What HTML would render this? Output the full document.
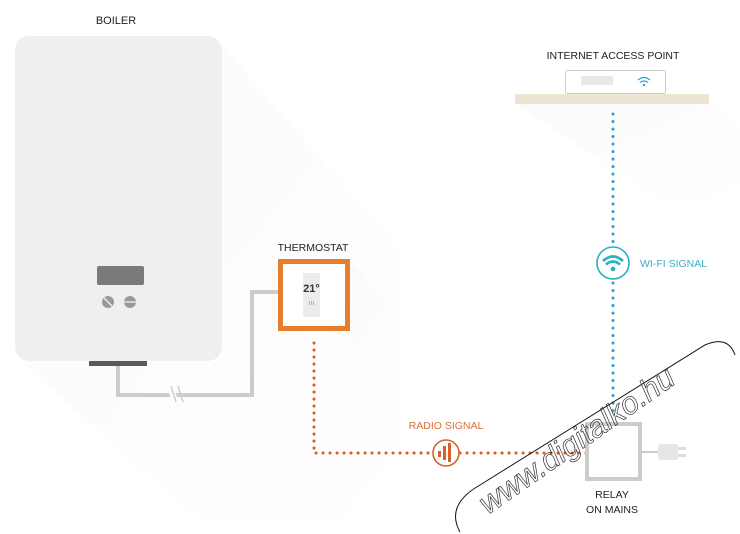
<!DOCTYPE html>
<html><head><meta charset="utf-8"><style>
html,body{margin:0;padding:0;background:#fff;}
svg{display:block;font-family:"Liberation Sans",sans-serif;}
</style></head><body>
<svg width="740" height="534" viewBox="0 0 740 534" xmlns="http://www.w3.org/2000/svg">
<defs>
<linearGradient id="sh" x1="0" y1="0" x2="1" y2="1">
<stop offset="0" stop-color="#f4f4f4"/><stop offset="1" stop-color="#ffffff"/>
</linearGradient>
</defs>
<rect width="740" height="534" fill="#fff"/>
<!-- shadows -->
<polygon points="222,45 400,250 400,520 200,520 20,361 222,361" fill="url(#sh)" opacity="0.45"/>
<polygon points="709,100 740,130 740,200 660,200 515,104" fill="url(#sh)" opacity="0.4"/>
<polygon points="350,262 400,310 400,370 330,331" fill="url(#sh)" opacity="0.4"/>
<!-- boiler -->
<text x="116" y="24" font-size="11" text-anchor="middle" fill="#222">BOILER</text>
<rect x="15" y="36" width="207" height="325" rx="14" fill="#efefef"/>
<rect x="97" y="266" width="47" height="19" rx="2" fill="#7a7a7a"/>
<circle cx="108" cy="302" r="6" fill="#999"/>
<line x1="104" y1="298" x2="112" y2="306" stroke="#eee" stroke-width="1.3"/>
<circle cx="130" cy="302" r="6" fill="#999"/>
<line x1="124" y1="302" x2="136" y2="302" stroke="#eee" stroke-width="1.3"/>
<rect x="89" y="361" width="58" height="5" fill="#5a5a5a"/>
<!-- pipe -->
<polyline points="118,366 118,395 252,395 252,292 280,292" fill="none" stroke="#cccccc" stroke-width="4"/>
<line x1="170" y1="388" x2="176" y2="402" stroke="#fff" stroke-width="6"/>
<line x1="171" y1="386" x2="176" y2="402" stroke="#ccc" stroke-width="1.5"/>
<line x1="178" y1="386" x2="183" y2="402" stroke="#ccc" stroke-width="1.5"/>
<!-- thermostat -->
<text x="313" y="251" font-size="10.5" text-anchor="middle" fill="#222">THERMOSTAT</text>
<rect x="280.5" y="261.5" width="67" height="67" fill="#fff" stroke="#e67e2e" stroke-width="5"/>
<rect x="303" y="273" width="17" height="44" fill="#ececec"/>
<text x="311.5" y="292" font-size="11" font-weight="bold" text-anchor="middle" fill="#333">21°</text>
<text x="311.5" y="305" font-size="7" text-anchor="middle" fill="#999">ııı</text>
<!-- radio dotted -->
<polyline points="314,343 314,453 432,453" fill="none" stroke="#dd5a22" stroke-width="3" stroke-linecap="round" stroke-dasharray="0.1 6.9"/>
<line x1="460" y1="453" x2="590" y2="453" stroke="#dd5a22" stroke-width="3" stroke-linecap="round" stroke-dasharray="0.1 6.9"/>
<circle cx="446" cy="453" r="13" fill="#fff" stroke="#d9602a" stroke-width="1.6"/>
<rect x="438" y="451" width="3" height="6" fill="#d9602a"/>
<rect x="443" y="446" width="3" height="14" fill="#d9602a"/>
<rect x="448" y="443" width="3" height="19" fill="#d9602a"/>
<text x="446" y="429" font-size="10.5" text-anchor="middle" fill="#d9703a">RADIO SIGNAL</text>
<!-- access point -->
<text x="613" y="59" font-size="10.5" text-anchor="middle" fill="#222">INTERNET ACCESS POINT</text>
<rect x="565.5" y="70.5" width="100" height="23" rx="2" fill="#fff" stroke="#ccc"/>
<rect x="581" y="76" width="32" height="9" fill="#e8e8e8"/>
<path d="M638,80 q6,-5 12,0 M640,82.5 q4,-3 8,0" fill="none" stroke="#2aa7cf" stroke-width="1.3"/>
<circle cx="644" cy="85" r="1.2" fill="#2aa7cf"/>
<rect x="515" y="94" width="194" height="10" fill="#ede3d3"/>
<!-- wifi dotted -->
<line x1="613" y1="114" x2="613" y2="244" stroke="#2aa3cf" stroke-width="3" stroke-linecap="round" stroke-dasharray="0.1 7.4"/>
<line x1="613" y1="283" x2="613" y2="412" stroke="#2aa3cf" stroke-width="3" stroke-linecap="round" stroke-dasharray="0.1 7.4"/>
<circle cx="613" cy="263" r="16" fill="#fff" stroke="#2ab0c0" stroke-width="1.6"/>
<path d="M603,261 q10,-9 20,0 M606,264.5 q7,-6 14,0" fill="none" stroke="#2ab0c0" stroke-width="2.6"/>
<circle cx="613" cy="269" r="2.3" fill="#2ab0c0"/>
<text x="640" y="267" font-size="10.5" fill="#3ab0c6">WI-FI SIGNAL</text>
<!-- relay -->
<rect x="587" y="424" width="53" height="55" fill="#fff" stroke="#cccccc" stroke-width="4"/>
<line x1="640" y1="452" x2="658" y2="452" stroke="#ccc" stroke-width="2"/>
<rect x="658" y="444" width="20" height="16" rx="3" fill="#e6e6e6"/>
<rect x="678" y="447" width="8" height="3" fill="#ddd"/><rect x="678" y="454" width="8" height="3" fill="#ddd"/>
<text x="612" y="498" font-size="10.5" text-anchor="middle" fill="#222">RELAY</text>
<text x="612" y="513" font-size="10.5" text-anchor="middle" fill="#222">ON MAINS</text>
<!-- watermark -->
<path d="M460,532 Q445,505 480,485 L705,345 Q728,335 735,355" fill="none" stroke="#111" stroke-width="1"/>
<text x="0" y="0" transform="translate(488,515) rotate(-35)" font-size="31" font-style="italic" fill="none" stroke="#333" stroke-width="0.7">www.digitalko.hu</text>
</svg>
</body></html>
